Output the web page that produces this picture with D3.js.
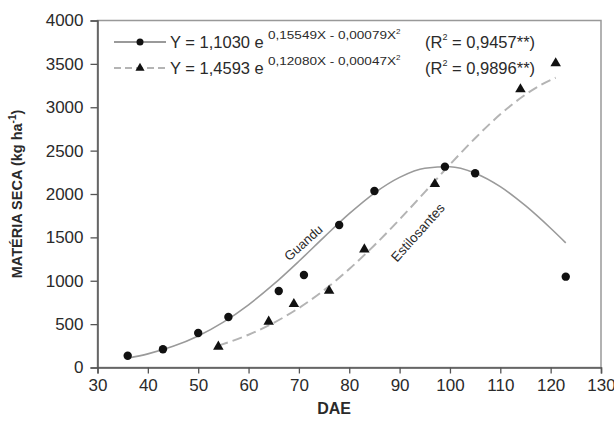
<!DOCTYPE html>
<html>
<head>
<meta charset="utf-8">
<script src="https://cdn.jsdelivr.net/npm/d3@7"></script>
<style>
  body { margin: 0; background: #fff; }
  text { font-family: "Liberation Sans", Arial, sans-serif; fill: #2a2a2a; }
</style>
</head>
<body>
<div id="chart"></div>
<script>
// observed points (DAE x matéria seca)
const daeGuandu = [36, 43, 50, 56, 66, 71, 78, 85, 99, 105, 123];
const msGuandu = [136, 210, 398, 582, 882, 1066, 1643, 2035, 2315, 2239, 1047];
const daeEstilo = [54, 64, 69, 76, 83, 97, 114, 121];
const msEstilo = [240, 528, 732, 885, 1362, 2115, 3207, 3507];

// fitted curves
const fitDaeGuandu = [36, 40, 45, 50, 55, 60, 65, 70, 75, 80, 85, 90, 95, 100, 105, 110, 115, 120, 123];
const fitMsGuandu = [107, 157, 244, 364, 523, 723, 960, 1225, 1503, 1773, 2011, 2192, 2297, 2314, 2240, 2085, 1865, 1605, 1437];
const fitDaeEstilo = [54, 60, 65, 70, 75, 80, 85, 90, 95, 100, 105, 110, 115, 118, 121];
const fitMsEstilo = [252, 378, 515, 686, 892, 1135, 1409, 1707, 2022, 2340, 2643, 2918, 3146, 3255, 3340];

const xTickValues = [30, 40, 50, 60, 70, 80, 90, 100, 110, 120, 130];
const yTickValues = [0, 500, 1000, 1500, 2000, 2500, 3000, 3500, 4000];

const margin = {top: 20.5, right: 13, bottom: 57.5, left: 97.5};
const W = 614, H = 425;
const width = W - margin.left - margin.right;
const height = H - margin.top - margin.bottom;

const svg = d3.select("#chart").append("svg")
    .attr("width", W)
    .attr("height", H);

const g = svg.append("g")
    .attr("transform", `translate(${margin.left},${margin.top})`);

const x = d3.scaleLinear().domain([30, 130]).range([0, width]);
const y = d3.scaleLinear().domain([0, 4000]).range([height, 0]);

const axisColor = "#555";

// frame
g.append("rect")
    .attr("width", width)
    .attr("height", height)
    .attr("fill", "none")
    .attr("stroke", "#999")
    .attr("stroke-width", 1.5);

// X axis
const xAxis = g.append("g")
    .attr("transform", `translate(0,${height})`)
    .call(d3.axisBottom(x).tickValues(xTickValues).tickFormat(d3.format("d")).tickSize(6).tickPadding(5));
xAxis.selectAll("text").style("font-size", "17px").attr("fill", "#333");

// Y axis
const yAxis = g.append("g")
    .call(d3.axisLeft(y).tickValues(yTickValues).tickFormat(d3.format("d")).tickSize(7).tickPadding(7));
yAxis.selectAll("text").style("font-size", "17px").attr("fill", "#333");

[xAxis, yAxis].forEach(ax => {
    ax.select(".domain").attr("stroke", axisColor).attr("stroke-width", 1.5);
    ax.selectAll(".tick line").attr("stroke", axisColor).attr("stroke-width", 1.3);
});

// axis titles
svg.append("text")
    .attr("x", margin.left + x(77))
    .attr("y", 414)
    .attr("text-anchor", "middle")
    .style("font-size", "16px")
    .style("font-weight", "bold")
    .text("DAE");

const yTitle = svg.append("text")
    .attr("transform", `translate(22,${margin.top + y(2000)}) rotate(-90)`)
    .attr("text-anchor", "middle")
    .style("font-size", "14.5px")
    .style("font-weight", "bold");
yTitle.append("tspan").text("MATÉRIA SECA (kg ha");
yTitle.append("tspan").attr("dy", -6).style("font-size", "10px").text("-1");
yTitle.append("tspan").attr("dy", 6).text(")");

// fitted lines
const line = d3.line()
    .x(d => x(d[0]))
    .y(d => y(d[1]))
    .curve(d3.curveMonotoneX);

g.append("path")
    .datum(d3.zip(fitDaeGuandu, fitMsGuandu))
    .attr("fill", "none")
    .attr("stroke", "#9a9a9a")
    .attr("stroke-width", 1.6)
    .attr("d", line);

g.append("path")
    .datum(d3.zip(fitDaeEstilo, fitMsEstilo))
    .attr("fill", "none")
    .attr("stroke", "#b4b4b4")
    .attr("stroke-width", 2)
    .attr("stroke-dasharray", "10,5")
    .attr("d", line);

// markers
const tri = d3.symbol().type(d3.symbolTriangle).size(48);

g.selectAll("circle.guandu")
    .data(d3.zip(daeGuandu, msGuandu))
    .enter()
    .append("circle")
    .attr("class", "guandu")
    .attr("cx", d => x(d[0]))
    .attr("cy", d => y(d[1]))
    .attr("r", 4.2)
    .attr("fill", "#111");

g.selectAll("path.estilo")
    .data(d3.zip(daeEstilo, msEstilo))
    .enter()
    .append("path")
    .attr("class", "estilo")
    .attr("transform", d => `translate(${x(d[0])},${y(d[1])})`)
    .attr("d", tri)
    .attr("fill", "#111");

// curve labels
g.append("text")
    .attr("transform", `translate(${x(71.5)},${y(1400)}) rotate(-42)`)
    .attr("text-anchor", "middle")
    .style("font-size", "13px")
    .attr("fill", "#444")
    .text("Guandu");

g.append("text")
    .attr("transform", `translate(${x(94.3)},${y(1520)}) rotate(-48)`)
    .attr("text-anchor", "middle")
    .style("font-size", "13.5px")
    .attr("fill", "#444")
    .text("Estilosantes");

// legend
const legend = svg.append("g");
const legRows = [
    {y: 42, coef: "1,1030", expo: "0,15549X - 0,00079X", r2: "0,9457**)", dash: null, color: "#9a9a9a", marker: "circle"},
    {y: 68, coef: "1,4593", expo: "0,12080X - 0,00047X", r2: "0,9896**)", dash: "7,4", color: "#b4b4b4", marker: "triangle"}
];

legRows.forEach(r => {
    legend.append("line")
        .attr("x1", 114).attr("x2", 166)
        .attr("y1", r.y).attr("y2", r.y)
        .attr("stroke", r.color)
        .attr("stroke-width", 1.8)
        .attr("stroke-dasharray", r.dash);
    if (r.marker === "circle") {
        legend.append("circle").attr("cx", 140).attr("cy", r.y).attr("r", 3.5).attr("fill", "#111");
    } else {
        legend.append("path").attr("transform", `translate(140,${r.y})`)
            .attr("d", d3.symbol().type(d3.symbolTriangle).size(36)).attr("fill", "#111");
    }
    legend.append("text")
        .attr("x", 170).attr("y", r.y + 6)
        .style("font-size", "16.5px")
        .text(`Y = ${r.coef} e`);
    const ex = legend.append("text")
        .attr("x", 268).attr("y", r.y - 3)
        .style("font-size", "11px");
    ex.append("tspan").attr("textLength", 128).attr("lengthAdjust", "spacingAndGlyphs").text(r.expo);
    ex.append("tspan").attr("dy", -5).style("font-size", "8px").text("2");
    const rt = legend.append("text")
        .attr("x", 425).attr("y", r.y + 6)
        .style("font-size", "16.5px");
    rt.append("tspan").text("(R");
    rt.append("tspan").attr("dy", -8).style("font-size", "9px").text("2");
    rt.append("tspan").attr("dy", 8).text(" = " + r.r2);
});
</script>
</body>
</html>
